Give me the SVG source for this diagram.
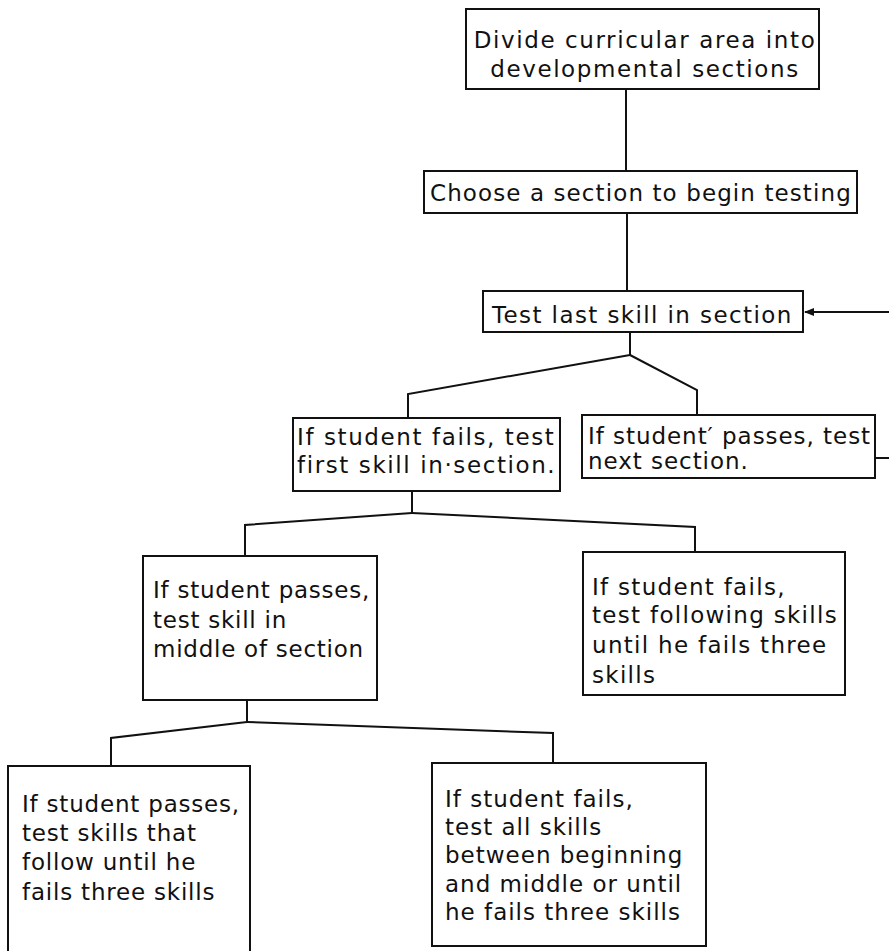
<svg xmlns="http://www.w3.org/2000/svg" width="889" height="951" viewBox="0 0 889 951">
<style>
  .box { fill: #ffffff; stroke: #111; stroke-width: 2; }
  .t { font-family: "DejaVu Sans", "Liberation Sans", sans-serif; font-size: 23px; fill: #111; }
  .c { text-anchor: middle; }
  .ln { fill: none; stroke: #111; stroke-width: 2; }
</style>
<defs>
  <marker id="ah" viewBox="0 0 10 10" refX="9" refY="5" markerWidth="5" markerHeight="5" orient="auto">
    <path d="M0,1 L10,5 L0,9 z" fill="#111"/>
  </marker>
</defs>
<rect width="889" height="951" fill="#ffffff"/>
<g id="connectors">
  <polyline class="ln" points="626,89 626,171"/>
  <polyline class="ln" points="627,213 627,291"/>
  <polyline class="ln" points="630,332 630,355"/>
  <polyline class="ln" points="630,355 408,394 408,418"/>
  <polyline class="ln" points="630,355 697,390 697,415"/>
  <line class="ln" x1="889" y1="312" x2="805" y2="312" marker-end="url(#ah)"/>
  <line class="ln" x1="875" y1="458" x2="889" y2="458"/>
  <polyline class="ln" points="412,491 412,513"/>
  <polyline class="ln" points="412,513 245,525 245,556"/>
  <polyline class="ln" points="412,513 695,527 695,552"/>
  <polyline class="ln" points="247,700 247,722"/>
  <polyline class="ln" points="247,722 111,738 111,766"/>
  <polyline class="ln" points="247,722 553,733 553,763"/>
</g>
<g id="n1">
  <rect class="box" x="466" y="9" width="353" height="80"/>
  <text class="t c" x="645" y="48" letter-spacing="1.6">Divide curricular area into</text>
  <text class="t c" x="645" y="77" letter-spacing="1.6">developmental sections</text>
</g>
<g id="n2">
  <rect class="box" x="424" y="171" width="433" height="42"/>
  <text class="t" x="430" y="201" letter-spacing="1.1">Choose a section to begin testing</text>
</g>
<g id="n3">
  <rect class="box" x="483" y="291" width="320" height="41"/>
  <text class="t" x="492" y="323" letter-spacing="1.4">Test last skill in section</text>
</g>
<g id="n4">
  <rect class="box" x="293" y="418" width="267" height="73"/>
  <text class="t" x="297" y="445" letter-spacing="1.6">If student fails, test</text>
  <text class="t" x="297" y="473" letter-spacing="1.6">first skill in·section.</text>
</g>
<g id="n5">
  <rect class="box" x="582" y="415" width="293" height="63"/>
  <text class="t" x="588" y="444" letter-spacing="0.95">If student′ passes, test</text>
  <text class="t" x="588" y="469" letter-spacing="0.95">next section.</text>
</g>
<g id="n6">
  <rect class="box" x="143" y="556" width="234" height="144"/>
  <text class="t" x="153" y="598" letter-spacing="0.75">If student passes,</text>
  <text class="t" x="153" y="628" letter-spacing="0.75">test skill in</text>
  <text class="t" x="153" y="657" letter-spacing="0.75">middle of section</text>
</g>
<g id="n7">
  <rect class="box" x="583" y="552" width="262" height="143"/>
  <text class="t" x="592" y="595" letter-spacing="1.3">If student fails,</text>
  <text class="t" x="592" y="623" letter-spacing="1.3">test following skills</text>
  <text class="t" x="592" y="653" letter-spacing="1.3">until he fails three</text>
  <text class="t" x="592" y="683" letter-spacing="1.3">skills</text>
</g>
<g id="n8">
  <rect class="box" x="8" y="766" width="242" height="200"/>
  <text class="t" x="22" y="812" letter-spacing="0.8">If student passes,</text>
  <text class="t" x="22" y="841" letter-spacing="0.8">test skills that</text>
  <text class="t" x="22" y="870" letter-spacing="0.8">follow until he</text>
  <text class="t" x="22" y="900" letter-spacing="0.8">fails three skills</text>
</g>
<g id="n9">
  <rect class="box" x="432" y="763" width="274" height="183"/>
  <text class="t" x="445" y="807" letter-spacing="1">If student fails,</text>
  <text class="t" x="445" y="835" letter-spacing="1">test all skills</text>
  <text class="t" x="445" y="863" letter-spacing="1">between beginning</text>
  <text class="t" x="445" y="892" letter-spacing="1">and middle or until</text>
  <text class="t" x="445" y="920" letter-spacing="1">he fails three skills</text>
</g>
</svg>
